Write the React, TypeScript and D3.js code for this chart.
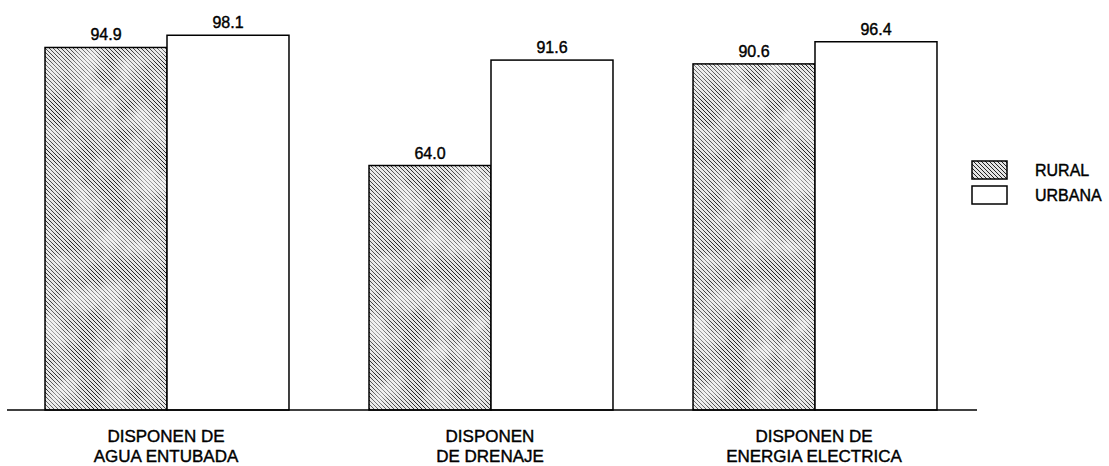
import React, { useEffect, useRef } from "react";
import * as d3 from "d3";

const categories = ["AGUA", "DRENAJE", "ENERGIA"];
const categoryLines = [
  ["DISPONEN DE", "AGUA ENTUBADA"],
  ["DISPONEN", "DE DRENAJE"],
  ["DISPONEN DE", "ENERGIA ELECTRICA"],
];
const seriesNames = ["RURAL", "URBANA"];
const ruralValues = [94.9, 64.0, 90.6];
const urbanValues = [98.1, 91.6, 96.4];

const W = 1109;
const H = 466;
const FONT = "'Liberation Sans', Arial, Helvetica, sans-serif";

export default function App() {
  const ref = useRef<SVGSVGElement | null>(null);

  useEffect(() => {
    document.body.style.margin = "0";
    const svg = d3.select(ref.current);
    svg.selectAll("*").remove();

    const defs = svg.append("defs");
    const pat = defs
      .append("pattern")
      .attr("id", "hatch")
      .attr("patternUnits", "userSpaceOnUse")
      .attr("width", 4)
      .attr("height", 4);
    pat.append("rect").attr("width", 4).attr("height", 4).attr("fill", "#e4e4e4");
    pat
      .append("path")
      .attr("d", "M0,0 L4,4 M-1,3 L1,5 M3,-1 L5,1")
      .attr("stroke", "#222")
      .attr("stroke-width", 1);

    const filt = defs
      .append("filter")
      .attr("id", "mottle")
      .attr("x", 0)
      .attr("y", 0)
      .attr("width", 1)
      .attr("height", 1);
    filt
      .append("feTurbulence")
      .attr("type", "fractalNoise")
      .attr("baseFrequency", "0.035")
      .attr("numOctaves", 3)
      .attr("seed", 4)
      .attr("result", "noise");
    filt
      .append("feColorMatrix")
      .attr("in", "noise")
      .attr("type", "matrix")
      .attr("values", "0 0 0 0 1  0 0 0 0 1  0 0 0 0 1  0 0 0 -2.2 1.5")
      .attr("result", "white");
    filt
      .append("feComposite")
      .attr("in", "white")
      .attr("in2", "SourceGraphic")
      .attr("operator", "in");

    const baseY = 410;
    const x0 = d3
      .scaleBand<string>()
      .domain(categories)
      .range([5, 977])
      .paddingInner(0.247)
      .paddingOuter(0.1235);
    const x1 = d3
      .scaleBand<string>()
      .domain(seriesNames)
      .range([0, x0.bandwidth()]);
    const y = d3.scaleLinear().domain([0, 100]).range([baseY, 28]);

    const data = categories.map((c, i) => ({
      cat: c,
      vals: [
        { s: "RURAL", v: ruralValues[i] },
        { s: "URBANA", v: urbanValues[i] },
      ],
    }));

    const g = svg.append("g");
    const groups = g
      .selectAll("g.grp")
      .data(data)
      .enter()
      .append("g")
      .attr("transform", (d) => `translate(${x0(d.cat)},0)`);

    const bars = groups
      .selectAll("g.bar")
      .data((d) => d.vals)
      .enter()
      .append("g");

    bars
      .append("rect")
      .attr("x", (d) => x1(d.s)!)
      .attr("y", (d) => y(d.v))
      .attr("width", x1.bandwidth())
      .attr("height", (d) => baseY - y(d.v))
      .attr("fill", (d) => (d.s === "RURAL" ? "url(#hatch)" : "#fff"))
      .attr("stroke", "#000")
      .attr("stroke-width", 1.5);

    bars
      .filter((d) => d.s === "RURAL")
      .append("rect")
      .attr("x", (d) => x1(d.s)! + 1)
      .attr("y", (d) => y(d.v) + 1)
      .attr("width", x1.bandwidth() - 2)
      .attr("height", (d) => baseY - y(d.v) - 2)
      .attr("fill", "#fff")
      .attr("opacity", 0.55)
      .attr("filter", "url(#mottle)");

    bars
      .append("text")
      .attr("x", (d) => x1(d.s)! + x1.bandwidth() / 2)
      .attr("y", (d) => y(d.v) - 7)
      .attr("text-anchor", "middle")
      .attr("font-family", FONT)
      .attr("font-size", 16)
      .attr("fill", "#000")
      .attr("stroke", "#000")
      .attr("stroke-width", 0.4)
      .text((d) => d.v.toFixed(1));

    // baseline axis
    g.append("line")
      .attr("x1", 7)
      .attr("x2", 977)
      .attr("y1", baseY)
      .attr("y2", baseY)
      .attr("stroke", "#000")
      .attr("stroke-width", 1.5);

    // category labels
    categories.forEach((c, i) => {
      const cx = x0(c)! + x0.bandwidth() / 2 - 1;
      categoryLines[i].forEach((line, j) => {
        g.append("text")
          .attr("x", cx)
          .attr("y", 442 + j * 20)
          .attr("text-anchor", "middle")
          .attr("font-family", FONT)
          .attr("font-size", 17)
          .attr("fill", "#000")
          .attr("stroke", "#000")
          .attr("stroke-width", 0.4)
          .text(line);
      });
    });

    // legend
    const legend = g.append("g");
    const legY = [161, 186];
    seriesNames.forEach((s, i) => {
      legend
        .append("rect")
        .attr("x", 972)
        .attr("y", legY[i])
        .attr("width", 35)
        .attr("height", 18)
        .attr("fill", s === "RURAL" ? "url(#hatch)" : "#fff")
        .attr("stroke", "#000")
        .attr("stroke-width", 1.5);
      legend
        .append("text")
        .attr("x", 1035)
        .attr("y", legY[i] + 15)
        .attr("font-family", FONT)
        .attr("font-size", 16)
        .attr("fill", "#000")
        .attr("stroke", "#000")
        .attr("stroke-width", 0.4)
        .text(s);
    });
  }, []);

  return (
    <svg
      ref={ref}
      width={W}
      height={H}
      style={{ position: "absolute", left: 0, top: 0, background: "#fff" }}
    />
  );
}
